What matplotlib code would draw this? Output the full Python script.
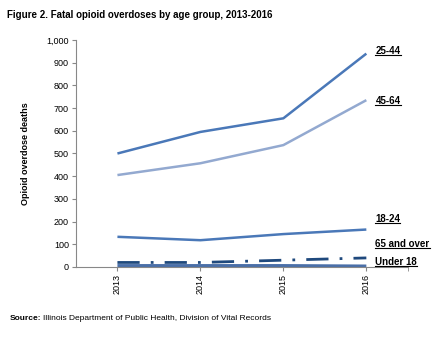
import matplotlib
matplotlib.use("Agg")
import matplotlib.pyplot as plt
from matplotlib.lines import Line2D

plt.rcParams["font.family"] = ["Liberation Sans", "DejaVu Sans"]

years = ["2013", "2014", "2015", "2016"]
age_groups = ["25-44", "45-64", "18-24", "65 and over", "Under 18"]
deaths = {
    "25-44": [500, 595, 655, 940],
    "45-64": [405, 457, 537, 735],
    "18-24": [133, 118, 145, 165],
    "65 and over": [20, 20, 30, 40],
    "Under 18": [5, 5, 5, 3],
}

# line styles per group
styles = {
    "25-44": dict(color="#4a78b8", lw=1.8, ls="-"),
    "45-64": dict(color="#93a9d0", lw=1.8, ls="-"),
    "18-24": dict(color="#4a78b8", lw=1.8, ls="-"),
    "65 and over": dict(color="#1f497d", lw=2.0, ls=(0, (8, 4, 1, 4))),
    "Under 18": dict(color="#4a6fa8", lw=2.6, ls="-"),
}
label_y = {"25-44": 940, "45-64": 720, "18-24": 200, "65 and over": 90, "Under 18": 10}

fig = plt.figure(figsize=(4.39, 3.39), dpi=100)
ax = fig.add_axes([0.173, 0.2124, 0.756, 0.6696])

x = list(range(len(years)))
for g in age_groups:
    ax.plot(x, deaths[g], solid_capstyle="butt", dash_capstyle="butt", **styles[g])

ax.set_xlim(-0.5, 3.5)
ax.set_ylim(0, 1000)
ax.set_yticks(range(0, 1001, 100))
ax.set_yticklabels([f"{v:,}" for v in range(0, 1001, 100)], fontsize=6.5)
ax.set_xticks(x)
ax.set_xticklabels(years, rotation=90, fontsize=6.5)
ax.set_xticks([3.5], minor=True)
ax.tick_params(axis="x", which="both", length=3, color="#888888", pad=2)
ax.tick_params(axis="y", length=3, color="#888888", pad=2)

for s in ["top", "right"]:
    ax.spines[s].set_visible(False)
for s in ["left", "bottom"]:
    ax.spines[s].set_color("#888888")
    ax.spines[s].set_linewidth(0.8)

ax.set_ylabel("Opioid overdose deaths", fontsize=6.5, fontweight="bold", labelpad=12)

texts = []
for g in age_groups:
    t = ax.text(3.11, label_y[g], g, fontsize=7, fontweight="bold",
                va="baseline", ha="left", color="black", clip_on=False)
    texts.append(t)

fig.text(0.016, 0.955, "Figure 2. Fatal opioid overdoses by age group, 2013-2016",
         fontsize=7, fontweight="bold", va="center")
fig.text(0.021, 0.06, "Source:", fontsize=6, fontweight="bold", va="center")
fig.text(0.021 + 0.076, 0.06, "Illinois Department of Public Health, Division of Vital Records",
         fontsize=6, va="center")

# underline the line labels, just under the baseline
fig.canvas.draw()
inv = fig.transFigure.inverted()
for t in texts:
    bb = t.get_window_extent(fig.canvas.get_renderer())
    base = ax.transData.transform((0, t.get_position()[1]))[1]
    (x0, y0), (x1, _) = inv.transform([(bb.x0, base - 1.5), (bb.x1, base - 1.5)])
    fig.add_artist(Line2D([x0, x1], [y0, y0], color="black", lw=0.8,
                          transform=fig.transFigure))

fig.savefig("out.png", dpi=100)
